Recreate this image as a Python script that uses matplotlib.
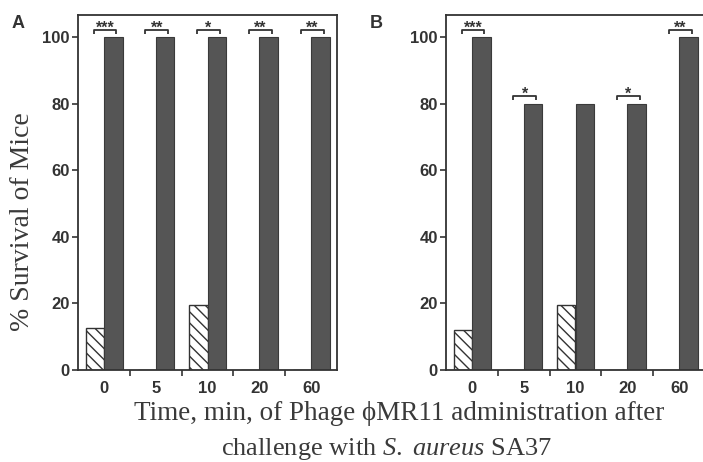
import numpy as np
import matplotlib
matplotlib.use("Agg")
import matplotlib.pyplot as plt

# values
times = ["0", "5", "10", "20", "60"]
control_a = [12.5, 0, 19.5, 0, 0]
phage_a = [100, 100, 100, 100, 100]
stars_a = ["***", "**", "*", "**", "**"]
control_b = [12, 0, 19.5, 0, 0]
phage_b = [100, 80, 80, 80, 100]
stars_b = ["***", "*", "", "*", "**"]

plt.rcParams['hatch.linewidth'] = 1.0
plt.rcParams['mathtext.fontset'] = 'custom'
plt.rcParams['mathtext.rm'] = 'Liberation Serif'
plt.rcParams['mathtext.it'] = 'Liberation Serif:italic'

W, H = 703, 462
fig = plt.figure(figsize=(W / 100, H / 100), dpi=100)

ink = '#333333'
dark = '#555555'


def px(x0, y0, x1, y1):
    # pixel box -> figure fraction rect
    return [x0 / W, 1 - y1 / H, (x1 - x0) / W, (y1 - y0) / H]


def panel(rect, control, phage, stars, letter, lpos):
    ax = fig.add_axes(rect)
    x = np.arange(len(times))
    w = 0.35
    ax.bar(x - w, control, width=w, align='edge', color='white',
           edgecolor=ink, hatch='\\\\\\', linewidth=1.0)
    ax.bar(x, phage, width=w + 0.01, align='edge', color=dark,
           edgecolor='#3a3a3a', linewidth=0.8)
    for xi, s, top in zip(x, stars, phage):
        if not s:
            continue
        y = top + 2.2
        ax.plot([xi - 0.2, xi - 0.2, xi + 0.24, xi + 0.24],
                [y - 1.2, y, y, y - 1.2], color=ink, lw=1.3,
                solid_capstyle='butt', clip_on=False)
        ax.text(xi + 0.02, y - 0.8, s, ha='center', va='baseline',
                fontsize=11.5, fontweight='bold', color=ink,
                family='Liberation Sans')
    ax.set_xlim(-0.5, 4.5)
    ax.set_ylim(0, 106.6)
    ax.set_yticks([0, 20, 40, 60, 80, 100])
    ax.set_xticks(x)
    ax.set_xticklabels(times)
    ax.set_xticks(np.arange(0.5, 4.5, 1), minor=True)
    ax.tick_params(axis='x', which='major', length=0, pad=8)
    ax.tick_params(axis='x', which='minor', length=4, width=1.2,
                   color=ink, direction='out')
    ax.tick_params(axis='y', length=4, width=1.2, color=ink, pad=2)
    for lab in ax.get_xticklabels() + ax.get_yticklabels():
        lab.set_fontfamily('Liberation Sans')
        lab.set_fontweight('bold')
        lab.set_fontsize(12)
        lab.set_color(ink)
    for sp in ax.spines.values():
        sp.set_color(ink)
        sp.set_linewidth(1.3)
    fig.text(lpos[0] / W, 1 - lpos[1] / H, letter, ha='center', va='center',
             fontsize=13, fontweight='bold', color=ink,
             family='Liberation Sans')
    return ax


panel(px(78, 15, 337, 370), control_a, phage_a, stars_a, 'A', (18, 24))
panel(px(446, 15, 705, 370), control_b, phage_b, stars_b, 'B', (376, 23))

serif = ['Liberation Serif', 'DejaVu Serif']
fig.text(23 / W, 1 - 222 / H, '% Survival of Mice', rotation=90,
         ha='center', va='center', fontsize=20, family=serif, color='#3a3a3a')
fig.text(399 / W, 1 - 413 / H,
         'Time, min, of Phage \u03d5MR11 administration after',
         ha='center', va='center', fontsize=19.5, family=serif, color='#3a3a3a')
fig.text(387 / W, 1 - 449 / H,
         r'challenge with $\mathit{S.}$ $\mathit{aureus}$ SA37',
         ha='center', va='center', fontsize=19, family=serif, color='#3a3a3a')

fig.savefig('out.png', dpi=100)
